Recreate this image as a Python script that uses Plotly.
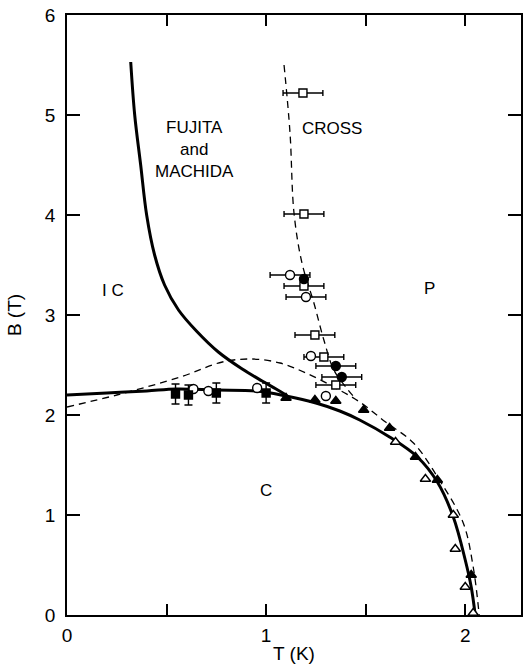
import plotly.graph_objects as go

# ---- phase boundary curves (T in K, B in T) ----
fm_T = [0.32, 0.34, 0.37, 0.40, 0.44, 0.49, 0.56, 0.65, 0.76, 0.88, 0.98, 1.05, 1.10]
fm_B = [5.53, 5.00, 4.50, 4.00, 3.60, 3.30, 3.05, 2.84, 2.63, 2.46, 2.34, 2.26, 2.20]

ph_T = [0.0, 0.2, 0.4, 0.55, 0.75, 0.95, 1.10, 1.25, 1.37, 1.47, 1.62, 1.76, 1.86, 1.94, 2.00, 2.03, 2.05]
ph_B = [2.20, 2.22, 2.24, 2.26, 2.25, 2.24, 2.19, 2.12, 2.04, 1.95, 1.78, 1.58, 1.33, 0.98, 0.55, 0.28, 0.0]

dome_T = [0.0, 0.25, 0.57, 0.78, 0.93, 1.07, 1.20, 1.34, 1.47, 1.60, 1.74, 1.87, 1.99, 2.04, 2.07]
dome_B = [2.08, 2.20, 2.38, 2.53, 2.56, 2.52, 2.42, 2.28, 2.13, 1.93, 1.72, 1.35, 0.92, 0.48, 0.0]

cross_T = [1.09, 1.12, 1.14, 1.18, 1.24, 1.29, 1.34, 1.40, 1.45]
cross_B = [5.50, 4.82, 4.02, 3.52, 3.12, 2.75, 2.45, 2.28, 2.16]

# ---- measured points ----
osq_T = [1.185, 1.19, 1.19, 1.245, 1.29, 1.35]
osq_B = [5.22, 4.01, 3.29, 2.80, 2.58, 2.30]
osq_dT = [0.10, 0.10, 0.10, 0.10, 0.10, 0.10]

ocir_T = [1.12, 1.20, 1.225, 1.30, 0.955, 0.71, 0.635]
ocir_B = [3.40, 3.18, 2.59, 2.19, 2.27, 2.24, 2.26]
ocir_dT = [0.10, 0.10, 0.0, 0.0, 0.0, 0.0, 0.0]

fcir_T = [1.19, 1.35, 1.38]
fcir_B = [3.36, 2.49, 2.38]
fcir_dT = [0.0, 0.10, 0.10]

fsq_T = [0.545, 0.61, 0.75, 1.00]
fsq_B = [2.21, 2.20, 2.22, 2.22]
fsq_dB = [0.10, 0.10, 0.10, 0.10]

ftri_T = [1.10, 1.245, 1.35, 1.49, 1.62, 1.75, 1.86, 2.03]
ftri_B = [2.17, 2.15, 2.14, 2.05, 1.87, 1.58, 1.35, 0.40]

otri_T = [1.65, 1.80, 1.94, 1.95, 2.00, 2.04]
otri_B = [1.73, 1.36, 1.00, 0.66, 0.28, 0.02]

FONT = "Liberation Sans"
INK = "black"

fig = go.Figure()

# curves
fig.add_trace(go.Scatter(x=dome_T, y=dome_B, mode="lines", line=dict(color=INK, width=1.3, dash="7px,5px", shape="spline")))
fig.add_trace(go.Scatter(x=cross_T, y=cross_B, mode="lines", line=dict(color=INK, width=1.3, dash="7px,5px", shape="spline")))
fig.add_trace(go.Scatter(x=fm_T, y=fm_B, mode="lines", line=dict(color=INK, width=3, shape="spline")))
fig.add_trace(go.Scatter(x=ph_T, y=ph_B, mode="lines", line=dict(color=INK, width=3, shape="spline")))

def pts(x, y, symbol, fill, size, ex=None, ey=None):
    kw = dict(x=x, y=y, mode="markers", cliponaxis=False,
              marker=dict(symbol=symbol, size=size, color=fill, line=dict(color=INK, width=1.4)))
    if ex is not None:
        kw["error_x"] = dict(type="data", array=ex, visible=True, color=INK, thickness=1.4, width=3)
    if ey is not None:
        kw["error_y"] = dict(type="data", array=ey, visible=True, color=INK, thickness=1.4, width=4)
    fig.add_trace(go.Scatter(**kw))

pts(osq_T, osq_B, "square", "white", 8, ex=osq_dT)
pts(ocir_T, ocir_B, "circle", "white", 9, ex=ocir_dT)
pts(fcir_T, fcir_B, "circle", INK, 9, ex=fcir_dT)
pts(fsq_T, fsq_B, "square", INK, 8, ey=fsq_dB)
pts(ftri_T, ftri_B, "triangle-up", INK, 9)
pts(otri_T, otri_B, "triangle-up", "white", 9)

# region labels
labels = [
    (0.64, 4.66, "FUJITA<br>and<br>MACHIDA"),
    (1.33, 4.87, "CROSS"),
    (0.23, 3.25, "I C"),
    (1.82, 3.27, "P"),
    (1.00, 1.25, "C"),
]
for lx, ly, txt in labels:
    fig.add_annotation(x=lx, y=ly, text=txt, showarrow=False,
                       font=dict(family=FONT, size=17, color=INK))

axis_common = dict(showgrid=False, zeroline=False, showline=True, linecolor=INK, linewidth=1.5,
                   mirror="ticks", ticks="inside", tickcolor=INK, tickwidth=1.5, automargin=False,
                   tickfont=dict(family=FONT, size=19, color=INK))

fig.update_xaxes(range=[0, 2.28], tickvals=[0, 0.5, 1, 1.5, 2], ticktext=["0", "", "1", "", "2"],
                 ticklen=11, ticklabelstandoff=2,
                 title=dict(text="T (K)", font=dict(family=FONT, size=19, color=INK), standoff=6),
                 **axis_common)
fig.update_yaxes(range=[0, 6], tickvals=[0, 1, 2, 3, 4, 5, 6], ticklen=13, ticklabelstandoff=6,
                 title=dict(text="B (T)", font=dict(family=FONT, size=19, color=INK), standoff=18),
                 **axis_common)

fig.update_layout(width=523, height=664, margin=dict(l=67, r=2, t=15, b=49),
                  plot_bgcolor="white", paper_bgcolor="white", showlegend=False)

fig.write_html("out.html")
